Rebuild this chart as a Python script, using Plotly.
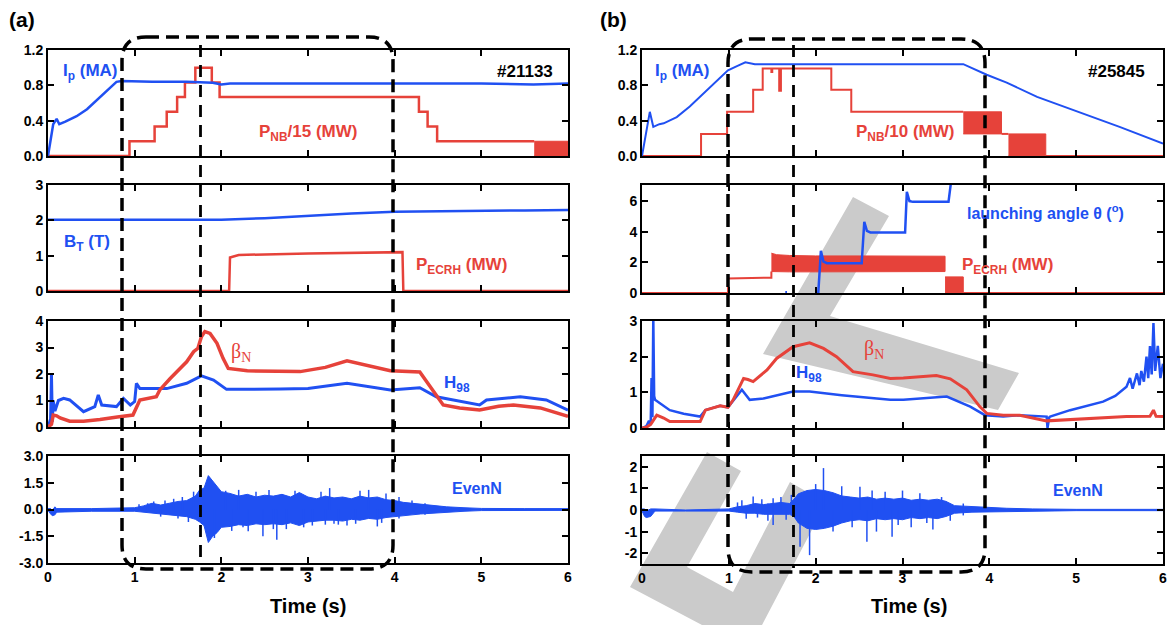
import plotly.graph_objects as go

# Page is shown with the browser's default 8px body margin, so the figure is
# made 8px smaller and every pixel position is measured from that offset.
OFF = 8
W, H = 1176 - OFF, 625 - OFF
BLUE = "#2050F2"
RED = "#E6423A"
GRAY = "#CBCBCB"

# ---------------- Panel (a) data (#21133) ----------------
a_ip_t = [0, 0.03, 0.06, 0.1, 0.13, 0.2, 0.33, 0.45, 0.56, 0.68, 0.79, 0.85, 1.2, 1.6, 1.9, 2.0, 2.1, 3.0, 4.0, 5.0, 5.6, 6.0]
a_ip = [0, 0.2, 0.36, 0.42, 0.36, 0.39, 0.45, 0.53, 0.63, 0.75, 0.84, 0.85, 0.84, 0.84, 0.83, 0.81, 0.82, 0.82, 0.82, 0.82, 0.81, 0.82]

a_pnb_t = [0, 0.94, 1.23, 1.37, 1.49, 1.58, 1.70, 1.89, 1.98, 4.28, 4.38, 4.49, 5.61]
a_pnb = [0, 0.167, 0.333, 0.5, 0.667, 0.833, 1.0, 0.833, 0.667, 0.5, 0.333, 0.167, 0.167]
a_pnb_mod_t = [5.61, 6.0]
a_pnb_mod_lo = [0, 0]
a_pnb_mod_hi = [0.167, 0.167]

a_bt_t = [0, 1.0, 2.0, 2.5, 3.0, 3.5, 4.0, 4.5, 5.0, 5.5, 6.0]
a_bt = [2.02, 2.02, 2.02, 2.06, 2.13, 2.19, 2.24, 2.26, 2.27, 2.28, 2.29]

a_ecrh_t = [0, 2.09, 2.10, 2.2, 3.0, 4.09, 4.10, 6.0]
a_ecrh = [0, 0, 0.95, 1.02, 1.06, 1.10, 0, 0]

a_beta_t = [0, 0.04, 0.06, 0.1, 0.14, 0.25, 0.41, 0.6, 0.8, 0.98, 1.06, 1.25, 1.29, 1.41, 1.6, 1.68, 1.73, 1.77, 1.81, 1.87, 1.95, 2.02, 2.08, 2.3, 2.91, 3.2, 3.45, 3.7, 3.95, 4.29, 4.44, 4.56, 4.75, 4.98, 5.2, 5.37, 5.68, 5.85, 6.0]
a_beta = [0, 0.1, 0.45, 0.42, 0.34, 0.22, 0.22, 0.28, 0.38, 0.45, 1.02, 1.14, 1.4, 1.83, 2.46, 2.84, 2.97, 3.41, 3.6, 3.53, 3.16, 2.59, 2.21, 2.12, 2.09, 2.25, 2.5, 2.3, 2.12, 2.08, 1.4, 0.83, 0.72, 0.64, 0.78, 0.83, 0.72, 0.55, 0.4]

a_h98_t = [0, 0.03, 0.04, 0.05, 0.06, 0.08, 0.12, 0.18, 0.25, 0.41, 0.54, 0.58, 0.62, 0.79, 0.87, 0.95, 1.0, 1.02, 1.06, 1.37, 1.6, 1.77, 1.91, 2.06, 2.68, 3.0, 3.45, 3.95, 4.29, 4.48, 4.98, 5.06, 5.45, 5.75, 6.0]
a_h98 = [0, 0.3, 1.96, 0.2, 1.0, 0.6, 1.0, 1.08, 1.02, 0.58, 0.77, 1.21, 0.83, 0.77, 1.08, 0.83, 0.96, 1.65, 1.45, 1.45, 1.65, 1.93, 1.77, 1.42, 1.43, 1.45, 1.65, 1.4, 1.48, 1.14, 0.83, 1.02, 1.14, 1.02, 0.64]

a_even_t = [0, 0.03, 0.05, 0.08, 0.1, 0.5, 1.0, 1.1, 1.2, 1.3, 1.4, 1.5, 1.6, 1.7, 1.75, 1.8, 1.85, 1.9, 1.95, 2.0, 2.1, 2.2, 2.3, 2.4, 2.5, 2.6, 2.7, 2.8, 2.9, 3.0, 3.1, 3.2, 3.3, 3.4, 3.5, 3.6, 3.7, 3.8, 3.9, 4.0, 4.1, 4.2, 4.3, 4.4, 4.6, 4.8, 5.0, 5.5, 6.0]
a_even_hi = [0.05, 0.05, -0.05, 0.15, 0.05, 0.05, 0.1, 0.2, 0.35, 0.25, 0.35, 0.45, 0.5, 0.75, 1.1, 1.2, 1.9, 1.6, 1.3, 1.0, 0.9, 0.75, 0.85, 0.7, 0.8, 0.75, 0.85, 0.7, 0.95, 0.7, 0.6, 0.75, 0.65, 0.7, 0.6, 0.75, 0.65, 0.7, 0.55, 0.5, 0.4, 0.35, 0.3, 0.25, 0.15, 0.1, 0.06, 0.05, 0.05]
a_even_lo = [-0.05, -0.25, -0.35, -0.3, -0.15, -0.1, -0.1, -0.15, -0.2, -0.25, -0.3, -0.35, -0.4, -0.55, -0.7, -0.9, -1.85, -1.5, -1.3, -1.0, -0.95, -0.85, -0.9, -0.8, -0.85, -0.8, -0.85, -0.75, -0.9, -0.7, -0.65, -0.6, -0.6, -0.65, -0.55, -0.6, -0.5, -0.55, -0.45, -0.4, -0.35, -0.3, -0.25, -0.2, -0.15, -0.1, -0.06, -0.05, -0.05]
a_spike_t = [1.05, 1.15, 1.22, 1.3, 1.35, 1.45, 1.5, 1.55, 1.62, 1.68, 1.92, 2.05, 2.12, 2.2, 2.25, 2.31, 2.4, 2.48, 2.55, 2.6, 2.64, 2.75, 2.85, 2.95, 3.05, 3.15, 3.2, 3.25, 3.3, 3.35, 3.45, 3.55, 3.6, 3.7, 3.8, 3.85, 3.9, 4.05, 4.2, 4.35]
a_spike_lo = [0, 0, 0, -0.4, 0, 0, -0.5, 0, -0.7, 0, -1.6, 0, -1.2, 0, -1.0, -1.22, 0, -1.5, 0, -1.1, -1.69, -1.1, 0, -1.0, -0.9, 0, -0.85, 0, -0.8, -0.85, -0.9, -0.8, 0, 0, -0.95, -0.75, 0, -0.5, 0, -0.3]
a_spike_hi = [0.3, 0.35, 0.45, 0, 0.5, 0.6, 0, 0.7, 0, 1.0, 0, 1.05, 0, 1.1, 0, 0, 1.0, 0, 1.1, 0, 0, 0, 1.05, 0, 0, 1.0, 0, 1.2, 0, 0, 0, 0, 1.05, 1.1, 0, 0, 0.9, 0.7, 0.5, 0.35]

# ---------------- Panel (b) data (#25845) ----------------
b_ip_t = [0, 0.05, 0.09, 0.13, 0.2, 0.25, 0.4, 0.55, 0.78, 0.99, 1.1, 1.19, 1.3, 2.0, 3.0, 3.7, 3.97, 4.2, 4.55, 5.0, 5.5, 6.0]
b_ip = [0, 0.3, 0.5, 0.33, 0.36, 0.37, 0.44, 0.56, 0.78, 0.97, 1.02, 1.06, 1.04, 1.04, 1.04, 1.04, 0.92, 0.83, 0.67, 0.51, 0.33, 0.14]

b_pnb_t = [0, 0.68, 0.98, 1.28, 1.39, 1.49, 1.50, 1.58, 1.60, 2.18, 2.41, 3.70, None, 4.14, 4.22, None, 4.65, 6.0]
b_pnb = [0, 0.25, 0.5, 0.75, 0.99, 0.95, 0.99, 0.74, 0.99, 0.75, 0.5, 0.5, None, 0.25, 0.25, None, 0, 0]
b_pnb_mod1_t = [3.70, 4.14]
b_pnb_mod1_lo = [0.25, 0.25]
b_pnb_mod1_hi = [0.5, 0.5]
b_pnb_mod2_t = [4.22, 4.65]
b_pnb_mod2_lo = [0, 0]
b_pnb_mod2_hi = [0.25, 0.25]

b_ecrh_t = [0, 0.99, 0.99, 1.2, 1.49, 1.49, None, 3.70, 6.0]
b_ecrh = [0, 0, 0.95, 0.97, 1.0, 1.4, None, 0, 0]
b_ecrh_band_t = [1.49, 1.55, 1.7, 2.0, 2.5, 3.0, 3.49]
b_ecrh_band_hi = [2.6, 2.5, 2.45, 2.42, 2.42, 2.4, 2.4]
b_ecrh_band_lo = [1.4, 1.38, 1.38, 1.38, 1.38, 1.38, 1.4]
b_ecrh_low_t = [3.49, 3.70]
b_ecrh_low_lo = [0, 0]
b_ecrh_low_hi = [1.05, 1.05]

b_ang_t = [1.65, 1.67, None, 2.03, 2.06, 2.09, 2.13, 2.53, 2.56, 2.59, 2.63, 3.03, 3.05, 3.08, 3.12, 3.53, 3.56]
b_ang = [0.05, 0.05, None, 0, 2.75, 2.05, 1.95, 1.95, 4.65, 4.05, 3.95, 3.95, 6.6, 6.0, 5.95, 5.95, 7.3]

b_beta_t = [0, 0.05, 0.1, 0.17, 0.25, 0.32, 0.5, 0.67, 0.73, 0.9, 0.99, 1.05, 1.17, 1.22, 1.28, 1.44, 1.55, 1.74, 1.93, 2.09, 2.24, 2.43, 2.66, 2.86, 3.01, 3.39, 3.55, 3.74, 3.89, 3.97, 4.16, 4.35, 4.66, 4.93, 5.58, 5.85, 5.89, 5.92, 6.0]
b_beta = [0, 0.02, 0.1, 0.36, 0.28, 0.18, 0.18, 0.18, 0.5, 0.62, 0.58, 0.79, 1.39, 1.36, 1.3, 1.63, 1.95, 2.28, 2.39, 2.23, 2.0, 1.58, 1.49, 1.39, 1.40, 1.47, 1.38, 1.07, 0.6, 0.41, 0.36, 0.36, 0.2, 0.24, 0.32, 0.33, 0.5, 0.33, 0.32]

b_h98_t = [0, 0.05, 0.08, 0.1, 0.11, 0.12, 0.13, 0.14, 0.15, 0.2, 0.32, 0.48, 0.67, 0.73, 0.9, 0.99, 1.15, 1.24, 1.4, 1.74, 1.93, 2.3, 2.86, 3.01, 3.51, 3.78, 3.95, 4.16, 4.35, 4.66, 4.67, 4.69, 4.7, 4.93, 5.31, 5.45, 5.52, 5.58, 5.62, 5.65, 5.70, 5.73, 5.75, 5.78, 5.81, 5.83, 5.85, 5.87, 5.89, 5.91, 5.94, 5.97, 6.0]
b_h98 = [0, 0.05, 0.2, 0.1, 1.4, 0.3, 3.1, 0.9, 0.79, 0.7, 0.5, 0.4, 0.32, 0.5, 0.62, 0.58, 1.07, 0.79, 0.83, 1.02, 1.02, 0.92, 0.79, 0.79, 0.88, 0.6, 0.36, 0.32, 0.36, 0.32, 0.0, 0.3, 0.32, 0.5, 0.74, 0.9, 1.05, 1.16, 1.4, 1.1, 1.53, 1.2, 1.6, 1.3, 2.0, 1.4, 2.3, 1.5, 2.94, 1.6, 2.3, 1.4, 1.8]

b_even_t = [0, 0.03, 0.05, 0.1, 0.15, 0.5, 1.0, 1.1, 1.2, 1.3, 1.4, 1.5, 1.6, 1.7, 1.75, 1.8, 1.9, 2.0, 2.1, 2.2, 2.3, 2.4, 2.5, 2.6, 2.7, 2.8, 2.9, 3.0, 3.1, 3.2, 3.3, 3.4, 3.5, 3.6, 3.8, 4.0, 4.2, 4.5, 5.0, 6.0]
b_even_hi = [0.05, 0.05, -0.05, 0.05, 0.05, 0.0, 0.05, 0.15, 0.2, 0.3, 0.25, 0.3, 0.35, 0.3, 0.5, 0.75, 0.9, 0.95, 0.9, 0.8, 0.65, 0.6, 0.55, 0.6, 0.5, 0.55, 0.5, 0.55, 0.45, 0.5, 0.45, 0.5, 0.4, 0.2, 0.15, 0.1, 0.08, 0.05, 0.03, 0.03]
b_even_lo = [-0.05, -0.3, -0.35, -0.3, -0.05, -0.05, -0.05, -0.1, -0.15, -0.15, -0.2, -0.2, -0.2, -0.2, -0.3, -0.6, -0.85, -0.9, -0.85, -0.75, -0.6, -0.5, -0.45, -0.5, -0.4, -0.45, -0.4, -0.45, -0.35, -0.4, -0.35, -0.4, -0.3, -0.15, -0.1, -0.08, -0.05, -0.05, -0.03, -0.03]
b_spike_t = [1.1, 1.15, 1.2, 1.28, 1.33, 1.38, 1.45, 1.51, 1.6, 1.66, 1.72, 1.82, 1.93, 2.0, 2.09, 2.2, 2.3, 2.42, 2.51, 2.59, 2.65, 2.7, 2.8, 2.88, 2.95, 3.0, 3.1, 3.2, 3.28, 3.35, 3.45, 3.55, 3.7]
b_spike_lo = [0, 0, -0.4, 0, -0.35, 0, -0.5, -0.7, 0, -0.45, 0, -1.7, -2.09, 0, 0, -1.0, 0, -0.8, 0, -1.47, 0, -1.0, 0, -1.24, -0.7, 0, -0.8, 0, -0.6, -0.9, 0, -0.5, -0.25]
b_spike_hi = [0.35, 0.45, 0, 0.62, 0, 0.5, 0.3, 0.54, 0.6, 0, 0.7, 0, 0, 1.2, 1.94, 0, 1.1, 0, 1.08, 0, 0.9, 0, 0.85, 0, 0, 0.9, 0, 0.78, 0, 0, 0.6, 0, 0.3]

# ---------------- Axes layout (pixel geometry of the screenshot) ----------------
def px(x):
    return (x - OFF) / W


def py(y):
    return 1 - (y - OFF) / H


xdom = {"a": [px(48), px(568)], "b": [px(642), px(1163)]}
rows_px = {"a": [(50, 156), (185, 291), (321, 427), (456, 563)],
           "b": [(50, 156), (185, 293), (321, 428), (456, 564)]}

yaxes_spec = {
    1: ([0, 1.2], [0, 0.4, 0.8, 1.2], ["0.0", "0.4", "0.8", "1.2"]),
    2: ([0, 3], [0, 1, 2, 3], ["0", "1", "2", "3"]),
    3: ([0, 4], [0, 1, 2, 3, 4], ["0", "1", "2", "3", "4"]),
    4: ([-3, 3], [-3, -1.5, 0, 1.5, 3], ["-3.0", "-1.5", "0.0", "1.5", "3.0"]),
    5: ([0, 1.2], [0, 0.4, 0.8, 1.2], ["0.0", "0.4", "0.8", "1.2"]),
    6: ([0, 7.05], [0, 2, 4, 6], ["0", "2", "4", "6"]),
    7: ([0, 3], [0, 1, 2, 3], ["0", "1", "2", "3"]),
    8: ([-2.5, 2.5], [-2, -1, 0, 1, 2], ["-2", "-1", "0", "1", "2"]),
}
x_ticks = [0, 1, 2, 3, 4, 5, 6]

fig = go.Figure()

axis_common = dict(showline=True, linecolor="black", linewidth=2, mirror="ticks",
                   ticks="inside", ticklen=6, tickwidth=2, tickcolor="black",
                   showgrid=False, zeroline=False, automargin=False,
                   tickfont=dict(family="Liberation Sans", size=14, color="black", weight="bold"))

layout_axes = {}
for i in range(1, 9):
    panel = "a" if i <= 4 else "b"
    r = (i - 1) % 4
    top, bot = rows_px[panel][r]
    yr, yt, ytt = yaxes_spec[i]
    xname = "xaxis" if i == 1 else f"xaxis{i}"
    yname = "yaxis" if i == 1 else f"yaxis{i}"
    layout_axes[xname] = dict(domain=xdom[panel], range=[0, 6], anchor=("y" if i == 1 else f"y{i}"),
                              tickvals=x_ticks, ticktext=[str(v) for v in x_ticks],
                              showticklabels=(r == 3), **axis_common)
    layout_axes[yname] = dict(domain=[py(bot), py(top)], range=yr, anchor=("x" if i == 1 else f"x{i}"),
                              tickvals=yt, ticktext=ytt, **axis_common)


def ax(i):
    return ("x" if i == 1 else f"x{i}"), ("y" if i == 1 else f"y{i}")


def line(i, t, v, color, width, shape="linear"):
    xa, ya = ax(i)
    fig.add_trace(go.Scatter(x=t, y=v, mode="lines", xaxis=xa, yaxis=ya,
                             line=dict(color=color, width=width, shape=shape),
                             connectgaps=False, showlegend=False, hoverinfo="skip"))


def band(i, t, lo, hi, color):
    xa, ya = ax(i)
    fig.add_trace(go.Scatter(x=list(t) + list(t)[::-1], y=list(hi) + list(lo)[::-1],
                             mode="lines", fill="toself", fillcolor=color, xaxis=xa, yaxis=ya,
                             line=dict(color=color, width=1), showlegend=False, hoverinfo="skip"))


def spikes(i, t, lo, hi, color):
    xs, ys = [], []
    for tt, l, h in zip(t, lo, hi):
        xs += [tt, tt, None]
        ys += [l, h, None]
    line(i, xs, ys, color, 1.5)


# Panel (a)
line(1, a_pnb_t, a_pnb, RED, 2.5, "hv")
band(1, a_pnb_mod_t, a_pnb_mod_lo, a_pnb_mod_hi, RED)
line(1, a_ip_t, a_ip, BLUE, 2.5)
line(2, a_ecrh_t, a_ecrh, RED, 2.5)
line(2, a_bt_t, a_bt, BLUE, 2.5)
line(3, a_h98_t, a_h98, BLUE, 3)
line(3, a_beta_t, a_beta, RED, 3.5)
band(4, a_even_t, a_even_lo, a_even_hi, BLUE)
spikes(4, a_spike_t, a_spike_lo, a_spike_hi, BLUE)

# Panel (b)
line(5, b_pnb_t, b_pnb, RED, 2, "hv")
band(5, b_pnb_mod1_t, b_pnb_mod1_lo, b_pnb_mod1_hi, RED)
band(5, b_pnb_mod2_t, b_pnb_mod2_lo, b_pnb_mod2_hi, RED)
line(5, b_ip_t, b_ip, BLUE, 2)
line(6, b_ecrh_t, b_ecrh, RED, 2)
band(6, b_ecrh_band_t, b_ecrh_band_lo, b_ecrh_band_hi, RED)
band(6, b_ecrh_low_t, b_ecrh_low_lo, b_ecrh_low_hi, RED)
line(6, b_ang_t, b_ang, BLUE, 2.5)
line(7, b_h98_t, b_h98, BLUE, 2.5)
line(7, b_beta_t, b_beta, RED, 3)
band(8, b_even_t, b_even_lo, b_even_hi, BLUE)
spikes(8, b_spike_t, b_spike_lo, b_spike_hi, BLUE)

# ---------------- Shapes ----------------
shapes = []


def poly(points):
    return "M " + " L ".join(f"{px(x):.5f},{py(y):.5f}" for x, y in points) + " Z"


# gray watermark (behind the plots)
wm1 = [(853, 197), (889, 216), (830, 316), (1019, 373), (998, 410), (763, 354)]
wm2 = [(707, 452), (741, 471), (687, 567), (733, 592), (790, 482), (826, 503), (762, 625), (702, 625), (630, 587)]
for wm in (wm1, wm2):
    shapes.append(dict(type="path", xref="paper", yref="paper", path=poly(wm),
                       fillcolor=GRAY, line=dict(width=0), layer="below"))


def rounded_rect(x0, y0, x1, y1, r):
    rx, ry = r / W, r / H
    X0, X1 = px(x0), px(x1)
    Yt, Yb = py(y0), py(y1)
    return (f"M {X0 + rx},{Yt} L {X1 - rx},{Yt} Q {X1},{Yt} {X1},{Yt - ry} "
            f"L {X1},{Yb + ry} Q {X1},{Yb} {X1 - rx},{Yb} L {X0 + rx},{Yb} "
            f"Q {X0},{Yb} {X0},{Yb + ry} L {X0},{Yt - ry} Q {X0},{Yt} {X0 + rx},{Yt} Z")


for (x0, y0, x1, y1) in [(122, 37, 393, 569), (728, 39, 985, 572)]:
    shapes.append(dict(type="path", xref="paper", yref="paper", path=rounded_rect(x0, y0, x1, y1, 24),
                       line=dict(color="black", width=3.5, dash="13px,7px"), layer="above"))

for (x, y0, y1) in [(200.5, 45, 560), (793.5, 45, 568)]:
    shapes.append(dict(type="line", xref="paper", yref="paper", x0=px(x), x1=px(x), y0=py(y0), y1=py(y1),
                       line=dict(color="black", width=2.8, dash="12px,8px"), layer="above"))

# ---------------- Text ----------------
ann = []


def text(s, x, y, color, size, family="Liberation Sans", bold=True):
    ann.append(dict(text=s, x=px(x), y=py(y), xref="paper", yref="paper", showarrow=False,
                    xanchor="center", yanchor="middle",
                    font=dict(family=family, size=size, color=color, weight=("bold" if bold else "normal"))))


text("(a)", 22, 20, "black", 21)
text("(b)", 613, 20, "black", 21)
text("#21133", 525, 71, "black", 17)
text("#25845", 1116, 71, "black", 17)
text("I<sub>p</sub> (MA)", 90, 72, BLUE, 17)
text("I<sub>p</sub> (MA)", 682, 72, BLUE, 17)
text("P<sub>NB</sub>/15 (MW)", 308, 133, RED, 17)
text("P<sub>NB</sub>/10 (MW)", 905, 133, RED, 17)
text("B<sub>T</sub> (T)", 87, 243, BLUE, 17)
text("P<sub>ECRH</sub> (MW)", 461, 266, RED, 17)
text("P<sub>ECRH</sub> (MW)", 1007, 266, RED, 17)
text("launching angle θ (<sup>o</sup>)", 1045, 212, BLUE, 16)
text("β<sub>N</sub>", 241, 352, RED, 20, "Liberation Serif", False)
text("β<sub>N</sub>", 874, 350, RED, 20, "Liberation Serif", False)
text("H<sub>98</sub>", 457, 384, BLUE, 17)
text("H<sub>98</sub>", 809, 374, BLUE, 17)
text("EvenN", 477, 489, BLUE, 16)
text("EvenN", 1078, 490, BLUE, 16)
text("Time (s)", 308, 606, "black", 20)
text("Time (s)", 909, 606, "black", 20)

fig.update_layout(width=W, height=H, autosize=False, margin=dict(l=0, r=0, t=0, b=0, autoexpand=False),
                  paper_bgcolor="white", plot_bgcolor="rgba(0,0,0,0)",
                  shapes=shapes, annotations=ann, showlegend=False, **layout_axes)

fig.write_html("out.html")
